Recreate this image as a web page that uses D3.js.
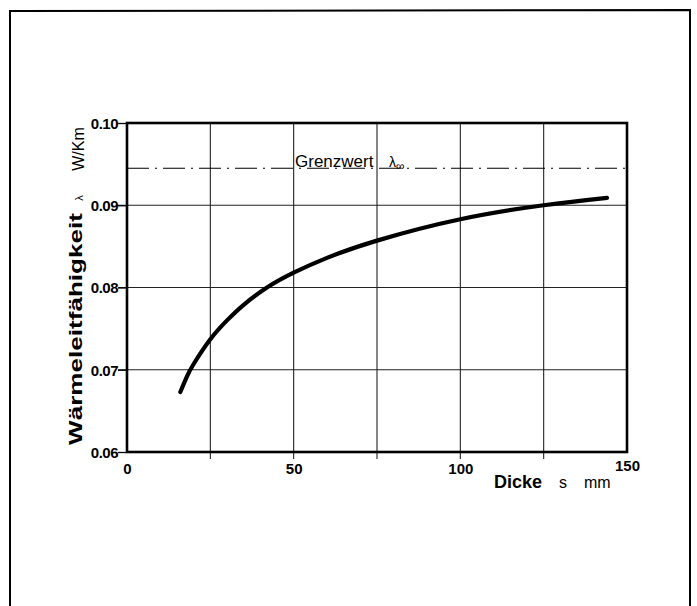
<!DOCTYPE html>
<html>
<head>
<meta charset="utf-8">
<script src="https://cdn.jsdelivr.net/npm/d3@7"></script>
<style>
  html, body { margin: 0; padding: 0; background: #fff; }
  svg { display: block; }
  text { font-family: "Liberation Sans", Arial, Helvetica, sans-serif; fill: #000; }
</style>
</head>
<body>
<script>
// Wärmeleitfähigkeit λ (W/Km) über der Dicke s (mm)
const dicke = [16, 18, 20, 25, 30, 35, 42, 50, 60, 75, 100, 125, 144];
const lambda = [0.0673, 0.0692, 0.0707, 0.0737, 0.0760, 0.0779, 0.0800, 0.0818, 0.0836, 0.0857, 0.0883, 0.0900, 0.0909];
const grenzwert = 0.0945;
const xTicks = [0, 50, 100, 150];
const xGrid = [25, 50, 75, 100, 125];
const yTicks = [0.06, 0.07, 0.08, 0.09, 0.10];
const yTickLabels = ["0.06", "0.07", "0.08", "0.09", "0.10"];

const W = 697, H = 606;
const svg = d3.select("body").append("svg").attr("width", W).attr("height", H);

// outer frame
svg.append("path")
  .attr("d", "M10,620 L10,11 L690,10 L690,620")
  .attr("fill", "none").attr("stroke", "#000").attr("stroke-width", 2);

const x = d3.scaleLinear().domain([0, 150]).range([127, 627]);
const y = d3.scaleLinear().domain([0.06, 0.10]).range([452, 123]);

// grid
const grid = svg.append("g");
grid.selectAll("line.v").data(xGrid).join("line")
  .attr("x1", d => x(d)).attr("x2", d => x(d))
  .attr("y1", y(0.10)).attr("y2", y(0.06) + 7)
  .attr("stroke", "#222").attr("stroke-width", 1.1);
grid.selectAll("line.h").data(yTicks.slice(1, -1)).join("line")
  .attr("x1", x(0) - 9).attr("x2", x(150))
  .attr("y1", d => y(d)).attr("y2", d => y(d))
  .attr("stroke", "#222").attr("stroke-width", 1.1);

// axes via d3 axis generators
const yAxis = svg.append("g").attr("transform", `translate(${x(0)},0)`)
  .call(d3.axisLeft(y).tickValues(yTicks).tickSize(9).tickFormat((d, i) => yTickLabels[i]));
yAxis.select(".domain").remove();
yAxis.selectAll(".tick line").attr("stroke", "#000").attr("stroke-width", 1.3);
yAxis.selectAll(".tick text")
  .attr("x", -9).attr("dy", "0.35em")
  .style("font-size", "15px").style("font-weight", "bold").style("letter-spacing", "-0.5px")
  .attr("font-family", null);

const xAxis = svg.append("g").attr("transform", `translate(0,${y(0.06)})`)
  .call(d3.axisBottom(x).tickValues(xTicks).tickSize(0));
xAxis.select(".domain").remove();
xAxis.selectAll(".tick line").remove();
xAxis.selectAll(".tick text")
  .attr("y", d => d === 150 ? 8 : 11).attr("dy", "0.71em")
  .style("font-size", "15px").style("font-weight", "bold")
  .attr("font-family", null);

// plot frame
svg.append("rect")
  .attr("x", x(0)).attr("y", y(0.10))
  .attr("width", x(150) - x(0)).attr("height", y(0.06) - y(0.10))
  .attr("fill", "none").attr("stroke", "#000").attr("stroke-width", 2.6);

// Grenzwert line (dash-dot)
svg.append("line")
  .attr("x1", x(0)).attr("x2", x(150))
  .attr("y1", y(grenzwert)).attr("y2", y(grenzwert))
  .attr("stroke", "#000").attr("stroke-width", 1.2)
  .attr("stroke-dasharray", "22,6,2,6");
const gl = svg.append("text").attr("x", 295).attr("y", y(grenzwert) - 1)
  .style("font-size", "17px");
gl.append("tspan").text("Grenzwert");
gl.append("tspan").attr("x", 389).text("λ").style("font-size", "14px");
gl.append("tspan").text("∞").attr("dy", 3).style("font-size", "12px");

// curve
const line = d3.line()
  .x((d, i) => x(dicke[i]))
  .y(d => y(d))
  .curve(d3.curveNatural);
svg.append("path")
  .datum(lambda)
  .attr("d", line)
  .attr("fill", "none").attr("stroke", "#000").attr("stroke-width", 4.2)
  .attr("stroke-linecap", "round");

// y axis title
svg.append("text")
  .attr("transform", "translate(82,329) rotate(-90)")
  .attr("text-anchor", "middle")
  .attr("textLength", 232).attr("lengthAdjust", "spacingAndGlyphs")
  .style("font-size", "19px").style("font-weight", "bold")
  .text("Wärmeleitfähigkeit");
svg.append("text")
  .attr("transform", "translate(83,198) rotate(-90)")
  .attr("text-anchor", "middle")
  .style("font-size", "11px")
  .text("λ");
svg.append("text")
  .attr("transform", "translate(84,149) rotate(-90)")
  .attr("text-anchor", "middle")
  .style("font-size", "16px")
  .text("W/Km");

// x axis title
svg.append("text").attr("x", 494).attr("y", 488)
  .style("font-size", "18px").style("font-weight", "bold").text("Dicke");
svg.append("text").attr("x", 559).attr("y", 488)
  .style("font-size", "16px").text("s");
svg.append("text").attr("x", 584).attr("y", 488)
  .style("font-size", "16px").text("mm");
</script>
</body>
</html>
